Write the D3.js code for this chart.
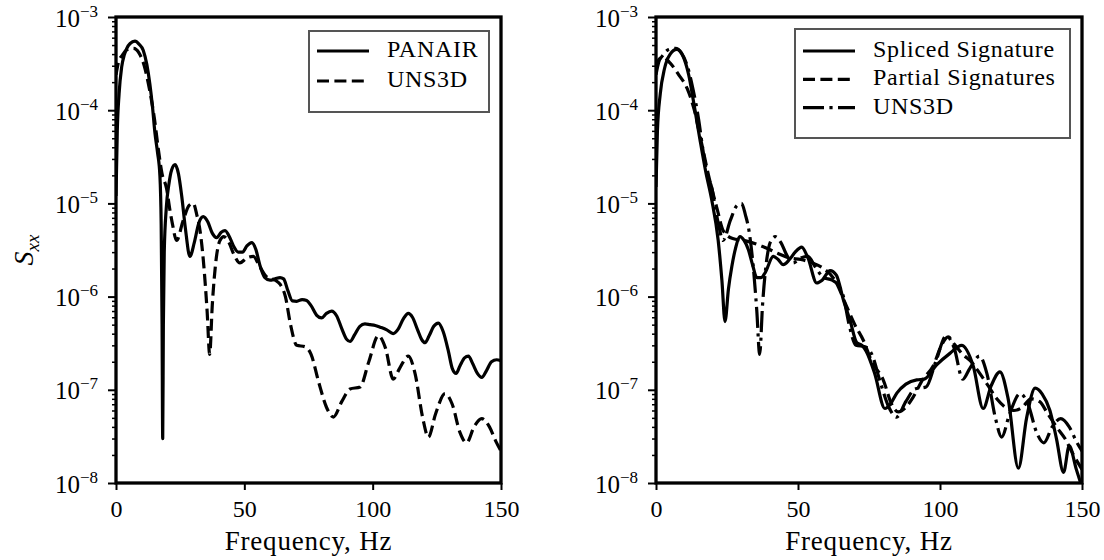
<!DOCTYPE html>
<html>
<head>
<meta charset="utf-8">
<script src="https://cdn.jsdelivr.net/npm/d3@7"></script>
<style>
  body { margin: 0; background: #fff; }
  svg { display: block; }
  svg text { font-family: "Liberation Serif", "DejaVu Serif"; fill: #000; }
</style>
</head>
<body>
<svg id="fig" width="1104" height="560"></svg>
<script>
// ---- spectra (frequency in Hz, power spectral density S_xx) ----
const freqPanair = [0, 0.5, 1.2, 2.2, 3.2, 4.2, 5.5, 7.4, 9, 10.6, 12, 13.2, 14.2, 15.2, 16.2, 17.1, 17.6, 17.95, 18.2, 18.45, 18.8, 19.6, 20.6, 21.7, 23, 24.3, 25.6, 27, 28.8, 30.5, 32.3, 34, 35.8, 37.5, 39.2, 41, 42.5, 44.5, 46, 47.6, 49.3, 51, 52.9, 54.5, 56, 58, 60, 62, 63.9, 65.3, 67, 68.7, 70.4, 72.5, 74.3, 76, 78.2, 80.1, 82, 84, 86, 88, 89.8, 91.2, 93, 95, 97, 99, 101, 102.9, 105.5, 108, 110, 112, 113.9, 115.5, 117.5, 119, 120.4, 122, 123.8, 125.6, 127.5, 129.5, 131, 132.5, 134, 135.8, 137.3, 139, 140.8, 142.5, 144.3, 146.3, 148.3, 150];
const sxxPanair = [1.2e-5, 6e-5, 1.5e-4, 2.9e-4, 3.9e-4, 4.6e-4, 5.2e-4, 5.5e-4, 5.1e-4, 4.4e-4, 3.1e-4, 1.9e-4, 1.1e-4, 5.6e-5, 3.5e-5, 2e-5, 6e-6, 5e-7, 3e-8, 5e-7, 3e-6, 9e-6, 1.6e-5, 2.3e-5, 2.6e-5, 2.1e-5, 1.2e-5, 5.5e-6, 2.7e-6, 3.8e-6, 6.2e-6, 7.2e-6, 6.3e-6, 4.8e-6, 4.3e-6, 4.9e-6, 5.1e-6, 4.2e-6, 3.4e-6, 3e-6, 3e-6, 3.5e-6, 3.8e-6, 3.2e-6, 2.2e-6, 1.6e-6, 1.5e-6, 1.55e-6, 1.6e-6, 1.55e-6, 1.15e-6, 9e-7, 8.9e-7, 9.3e-7, 9.1e-7, 8e-7, 6.3e-7, 5.9e-7, 6.6e-7, 7e-7, 6.2e-7, 4.5e-7, 3.5e-7, 3.3e-7, 3.9e-7, 4.8e-7, 5.1e-7, 5e-7, 4.9e-7, 4.7e-7, 4.4e-7, 4e-7, 4.5e-7, 5.8e-7, 6.6e-7, 6e-7, 4.4e-7, 3.5e-7, 3.2e-7, 3.8e-7, 4.8e-7, 5.2e-7, 4.2e-7, 2.6e-7, 1.7e-7, 1.5e-7, 1.8e-7, 2.2e-7, 2.3e-7, 1.9e-7, 1.5e-7, 1.36e-7, 1.6e-7, 2e-7, 2.1e-7, 2.05e-7];

const freqUns3d = [0, 1, 2.5, 4, 6.8, 9, 11, 13, 15, 16.5, 17.9, 19.7, 21, 22, 23.6, 26.2, 28.5, 30.1, 31.5, 32.7, 34, 35.5, 36.5, 37.5, 39, 40.5, 42, 44, 46, 48.3, 51, 53.5, 56, 59, 62, 64, 66, 68, 70.4, 73.6, 76, 79, 82, 84.7, 88, 91.2, 95.1, 98.5, 102.2, 105, 108, 110.5, 113.9, 116.5, 119.5, 121.7, 124.5, 128.2, 131, 134, 136.6, 139.5, 142.5, 145.5, 148, 150];
const sxxUns3d = [2.4e-4, 3.3e-4, 3.9e-4, 4.4e-4, 4.6e-4, 4.1e-4, 3e-4, 1.7e-4, 8e-5, 3.8e-5, 2.1e-5, 1.45e-5, 8.5e-6, 6e-6, 4e-6, 6.6e-6, 9.5e-6, 1e-5, 7.5e-6, 5.2e-6, 2.5e-6, 7e-7, 2.4e-7, 8e-7, 2.5e-6, 4e-6, 4.4e-6, 3.8e-6, 2.8e-6, 2.3e-6, 2.6e-6, 2.7e-6, 2.1e-6, 1.6e-6, 1.5e-6, 1.35e-6, 1e-6, 5e-7, 3e-7, 2.9e-7, 2.4e-7, 1.2e-7, 6.5e-8, 5.1e-8, 7.5e-8, 1.02e-7, 1.07e-7, 2e-7, 3.8e-7, 2.8e-7, 1.3e-7, 1.7e-7, 2.3e-7, 1.5e-7, 5e-8, 3.1e-8, 5.5e-8, 9.1e-8, 7e-8, 3.5e-8, 2.7e-8, 4e-8, 4.9e-8, 4e-8, 2.8e-8, 2.2e-8];

const freqSpliced = [0, 0.5, 1.5, 3, 5, 7.3, 9.5, 11.5, 13.5, 15.5, 17.5, 19.6, 21.9, 23.2, 24.3, 25.5, 26.7, 28, 29.6, 31, 32.5, 34, 35.5, 37, 38.4, 41.3, 43, 44.8, 47, 49, 51.3, 53.5, 56.6, 58.5, 61.3, 63.5, 66, 68.3, 70.7, 72.5, 74, 77, 80.6, 82.5, 84.8, 88, 91.8, 94.4, 98.8, 103.5, 107.6, 111.7, 115.2, 118, 121.1, 124, 127.6, 130.5, 133.5, 136, 138.7, 141, 143.5, 145.5, 148, 150];
const sxxSpliced = [1.5e-5, 6e-5, 1.5e-4, 2.8e-4, 4e-4, 4.5e-4, 3.8e-4, 2.4e-4, 1.1e-4, 4.8e-5, 2.2e-5, 1.1e-5, 4e-6, 1.5e-6, 5.4e-7, 1.2e-6, 2.1e-6, 3.3e-6, 4.4e-6, 4e-6, 3.2e-6, 2.2e-6, 1.6e-6, 1.6e-6, 1.8e-6, 2.7e-6, 2.5e-6, 2.2e-6, 2.5e-6, 3e-6, 3.4e-6, 2.6e-6, 1.4e-6, 1.5e-6, 1.9e-6, 1.7e-6, 9.2e-7, 5.6e-7, 3.2e-7, 3e-7, 2.6e-7, 1.5e-7, 6.3e-8, 7e-8, 9.2e-8, 1.15e-7, 1.28e-7, 1.3e-7, 1.85e-7, 2.46e-7, 3e-7, 1.8e-7, 6.3e-8, 1.1e-7, 1.56e-7, 8e-8, 1.44e-8, 5e-8, 1.04e-7, 9e-8, 6e-8, 3e-8, 1.3e-8, 2.5e-8, 1.4e-8, 9e-9];

const freqPartial = [0, 1, 2.5, 5, 8, 11, 13.5, 16, 18.5, 21.4, 23.8, 27, 31, 35, 39, 43, 47, 51, 55, 59, 63, 67, 70, 73, 76, 80, 83, 85.3, 88, 90.6, 94, 97.6, 100.5, 102.9, 105, 108, 111, 114, 117, 120, 123, 126, 129, 132, 135, 138, 141, 144, 147, 150];
const sxxPartial = [2.8e-4, 3.5e-4, 3.7e-4, 3.2e-4, 2.4e-4, 1.7e-4, 1e-4, 4.5e-5, 2e-5, 9e-6, 5e-6, 4.2e-6, 4e-6, 3.7e-6, 3.3e-6, 2.9e-6, 2.6e-6, 2.5e-6, 2.3e-6, 2e-6, 1.5e-6, 8e-7, 5e-7, 3.4e-7, 2e-7, 1.28e-7, 7e-8, 5.8e-8, 6.5e-8, 8.4e-8, 1.3e-7, 1.8e-7, 3e-7, 3.7e-7, 3.1e-7, 2.4e-7, 2e-7, 1.5e-7, 1.1e-7, 8e-8, 6.5e-8, 6e-8, 6.5e-8, 8e-8, 7.5e-8, 5.5e-8, 4e-8, 3e-8, 2e-8, 1.4e-8];

// ---- axis ticks and labels ----
const xTicks = [0, 50, 100, 150];
const yExponents = [-8, -7, -6, -5, -4, -3];
const xLabel = "Frequency, Hz";

// ---- line styles ----
const FONT = '"Liberation Serif", "DejaVu Serif"';
const LW = 3.2;
const styles = {
  solid:   { dash: null },
  dashed:  { dash: "12,5.4" },
  dashdot: { dash: "21,5.4,3.2,5.4" }
};

const zip = (f, s) => f.map((d, i) => ({ f: d, s: s[i] }));

const panels = [
  {
    x0: 116, x1: 501,
    series: [
      { name: "PANAIR", data: zip(freqPanair, sxxPanair), style: "solid" },
      { name: "UNS3D", data: zip(freqUns3d, sxxUns3d), style: "dashed" }
    ],
    legend: { x: 309, y: 31, w: 180, h: 81, lineX0: 317, lineX1: 369, textX: 387, baseline0: 57, step: 30 },
    ylabel: true
  },
  {
    x0: 656, x1: 1082,
    series: [
      { name: "Spliced Signature", data: zip(freqSpliced, sxxSpliced), style: "solid" },
      { name: "Partial Signatures", data: zip(freqPartial, sxxPartial), style: "dashed" },
      { name: "UNS3D", data: zip(freqUns3d, sxxUns3d), style: "dashdot" }
    ],
    legend: { x: 795, y: 29, w: 275, h: 109, lineX0: 803, lineX1: 855, textX: 873, baseline0: 57, step: 28.3 },
    ylabel: false
  }
];

const Y0 = 17, Y1 = 483;
const y = d3.scaleLog().domain([1e-8, 1e-3]).range([Y1, Y0]);
const svg = d3.select("#fig");

const majors = yExponents.map(e => Math.pow(10, e));
const minors = [];
yExponents.slice(0, -1).forEach(e => {
  for (let m = 2; m <= 9; m++) minors.push(m * Math.pow(10, e));
});

panels.forEach((p, pi) => {
  const x = d3.scaleLinear().domain([0, 150]).range([p.x0, p.x1]);
  const g = svg.append("g");

  // clip region for the curves
  const clipId = "clip" + pi;
  svg.append("clipPath").attr("id", clipId)
    .append("rect").attr("x", p.x0).attr("y", Y0).attr("width", p.x1 - p.x0).attr("height", Y1 - Y0);

  const line = d3.line()
    .x(d => x(d.f))
    .y(d => y(Math.max(d.s, 1e-10)))
    .curve(d3.curveMonotoneX);

  const curves = g.append("g").attr("clip-path", `url(#${clipId})`);
  p.series.forEach(s => {
    curves.append("path")
      .datum(s.data)
      .attr("d", line)
      .attr("fill", "none")
      .attr("stroke", "#000")
      .attr("stroke-width", LW)
      .attr("stroke-linejoin", "round")
      .attr("stroke-dasharray", styles[s.style].dash);
  });

  // bottom axis
  const xAxis = g.append("g").attr("transform", `translate(0,${Y1})`)
    .call(d3.axisBottom(x).tickValues(xTicks).tickSizeInner(7).tickSizeOuter(0).tickFormat(d3.format("d")));
  xAxis.select(".domain").remove();
  xAxis.selectAll(".tick line").attr("stroke", "#000").attr("stroke-width", 2);
  xAxis.selectAll(".tick text").remove();
  xAxis.selectAll(".tick").append("text")
    .attr("y", 34).attr("text-anchor", "middle")
    .attr("font-family", FONT).attr("font-size", 24)
    .text(d => d);

  // left axis: minor ticks
  const yMinor = g.append("g").attr("transform", `translate(${p.x0},0)`)
    .call(d3.axisLeft(y).tickValues(minors).tickSize(4).tickFormat(""));
  yMinor.select(".domain").remove();
  yMinor.selectAll(".tick line").attr("stroke", "#000").attr("stroke-width", 1.5);

  // left axis: decade ticks with power-of-ten labels
  const yMajor = g.append("g").attr("transform", `translate(${p.x0},0)`)
    .call(d3.axisLeft(y).tickValues(majors).tickSize(8).tickFormat(""));
  yMajor.select(".domain").remove();
  yMajor.selectAll(".tick line").attr("stroke", "#000").attr("stroke-width", 2);
  yMajor.selectAll(".tick").each(function (d) {
    const t = d3.select(this).append("text")
      .attr("x", -18).attr("y", 9).attr("text-anchor", "end")
      .attr("font-family", FONT).attr("font-size", 25);
    t.append("tspan").text("10");
    t.append("tspan").attr("dy", -10).attr("font-size", 17)
      .text("\u2212" + Math.round(-Math.log10(d)));
  });

  // frame
  g.append("rect")
    .attr("x", p.x0).attr("y", Y0)
    .attr("width", p.x1 - p.x0).attr("height", Y1 - Y0)
    .attr("fill", "none").attr("stroke", "#000").attr("stroke-width", 3.3);

  // x label
  g.append("text")
    .attr("x", (p.x0 + p.x1) / 2).attr("y", 550)
    .attr("text-anchor", "middle")
    .attr("font-family", FONT).attr("font-size", 27).attr("letter-spacing", 0.8)
    .text(xLabel);

  // y label
  if (p.ylabel) {
    const yl = g.append("text")
      .attr("transform", `translate(33,${(Y0 + Y1) / 2}) rotate(-90)`)
      .attr("text-anchor", "middle")
      .attr("font-family", FONT).attr("font-size", 28);
    yl.append("tspan").attr("font-style", "italic").text("S");
    yl.append("tspan").attr("dy", 6).attr("font-size", 19).attr("font-style", "italic").text("xx");
  }

  // legend
  const L = p.legend;
  const lg = g.append("g");
  lg.append("rect")
    .attr("x", L.x).attr("y", L.y).attr("width", L.w).attr("height", L.h)
    .attr("fill", "#fff").attr("stroke", "#555").attr("stroke-width", 2);
  p.series.forEach((s, i) => {
    const by = L.baseline0 + i * L.step;
    lg.append("line")
      .attr("x1", L.lineX0).attr("x2", L.lineX1)
      .attr("y1", by - 6).attr("y2", by - 6)
      .attr("stroke", "#000").attr("stroke-width", LW)
      .attr("stroke-dasharray", styles[s.style].dash);
    lg.append("text")
      .attr("x", L.textX).attr("y", by)
      .attr("font-family", FONT).attr("font-size", 24).attr("letter-spacing", 0.7)
      .text(s.name);
  });
});
</script>
</body>
</html>
